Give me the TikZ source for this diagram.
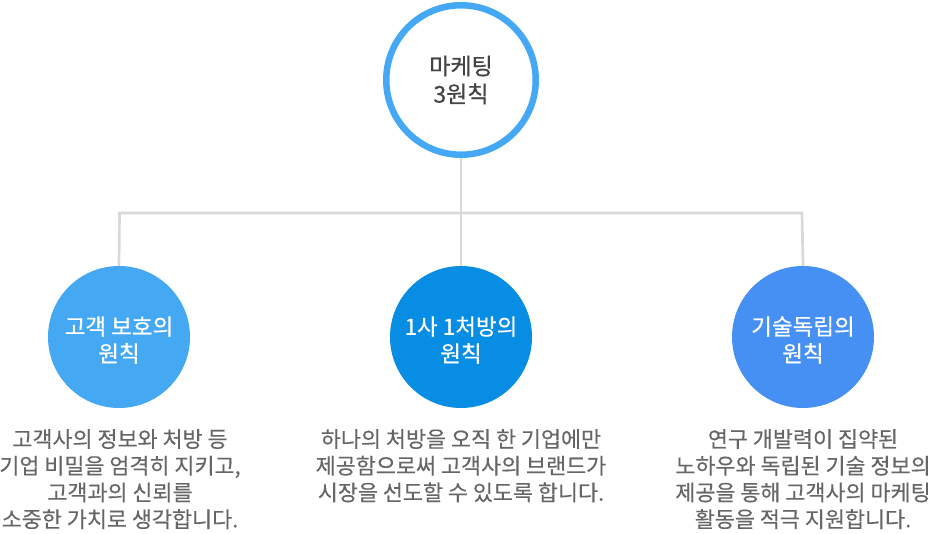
\documentclass[tikz,border=0pt]{standalone}
\usepackage{fontspec}
\setmainfont{Noto Sans CJK KR}
\newfontfamily\circlefont[FakeBold=0.6]{Noto Sans CJK KR}
\newfontfamily\descfont[FakeBold=0.3]{Noto Sans CJK KR}
\definecolor{ringblue}{HTML}{45A8F5}
\definecolor{cblueA}{HTML}{45A8F2}
\definecolor{cblueB}{HTML}{088DE4}
\definecolor{cblueC}{HTML}{4590F2}
\definecolor{linegrey}{HTML}{D9D9D9}
\definecolor{titlegrey}{HTML}{444444}
\definecolor{descgrey}{HTML}{666666}
\begin{document}
\begin{tikzpicture}[x=1pt,y=-1pt,
  topcircle/.style={circle,draw=ringblue,line width=6.5pt,fill=white,minimum size=149.5pt,inner sep=0pt,
    text=titlegrey,font=\circlefont\fontsize{23}{28}\selectfont,align=center},
  subcircle/.style={circle,minimum size=142pt,inner sep=0pt,text=white,
    font=\circlefont\fontsize{22.5}{27}\selectfont,align=center},
  desc/.style={text=descgrey,font=\descfont\fontsize{21.8}{26.7}\selectfont,align=center,inner sep=0pt},
  conn/.style={draw=linegrey,line width=2.7pt}]
\useasboundingbox (0,0) rectangle (929,534);
\coordinate (jl) at (119.5,213);
\coordinate (jm) at (461,213);
\coordinate (jr) at (802,213);
\node[subcircle,fill=cblueA] (c1) at (119,337) {};
\node[subcircle,fill=cblueB] (c2) at (461,337) {};
\node[subcircle,fill=cblueC] (c3) at (803,337) {};
\node[subcircle] (t1) at (119,340) {고객 보호의\\원칙};
\node[subcircle] (t2) at (461,340) {1사 1처방의\\원칙};
\node[subcircle] (t3) at (803,340) {기술독립의\\원칙};
\draw[conn] (c1.north) -- (jl) -- (jr) -- (c3.north);
\draw[conn] (jm) -- (c2.north);
\node[topcircle] (top) at (461,80) {마케팅\\3원칙};
\draw[conn] (top.south) -- (jm);
\node[desc,anchor=north] (d1) at (120,429) {고객사의 정보와 처방 등\\기업 비밀을 엄격히 지키고,\\고객과의 신뢰를\\소중한 가치로 생각합니다.};
\node[desc,anchor=north] (d2) at (461,429) {하나의 처방을 오직 한 기업에만\\제공함으로써 고객사의 브랜드가\\시장을 선도할 수 있도록 합니다.};
\node[desc,anchor=north] (d3) at (803,429) {연구 개발력이 집약된\\노하우와 독립된 기술 정보의\\제공을 통해 고객사의 마케팅\\활동을 적극 지원합니다.};
\end{tikzpicture}
\end{document}
